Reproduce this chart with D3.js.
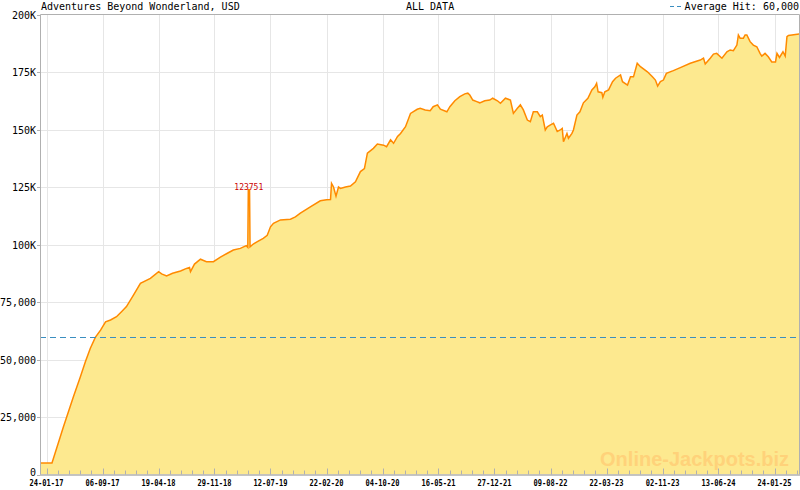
<!DOCTYPE html>
<html><head><meta charset="utf-8">
<script src="https://cdn.jsdelivr.net/npm/d3@7"></script>
<style>html,body{margin:0;padding:0;background:#fff;}svg{display:block;}</style>
</head><body>
<svg id="chart" width="800" height="490"></svg>
<script>
const title = "Adventures Beyond Wonderland, USD";
const subtitle = "ALL DATA";
const averageLabel = "Average Hit: 60,000";
const averageHit = 60000;
const peakLabel = "123751";
const peakValue = 123751;
const peakDate = "2019-04-16";

const xTickLabels = ["24-01-17","06-09-17","19-04-18","29-11-18","12-07-19","22-02-20","04-10-20","16-05-21","27-12-21","09-08-22","22-03-23","02-11-23","13-06-24","24-01-25"];
const yTickValues = [0,25000,50000,75000,100000,125000,150000,175000,200000];
const yTickLabels = ["0","25,000","50,000","75,000","100K","125K","150K","175K","200K"];

const dates = [
"2016-12-31","2017-02-15","2017-04-02","2017-05-12","2017-06-09","2017-06-29","2017-07-19","2017-08-08","2017-08-29","2017-09-18",
"2017-10-08","2017-11-01","2017-11-21","2017-12-11","2018-01-08","2018-02-05","2018-03-17","2018-04-19","2018-05-01","2018-05-21",
"2018-06-14","2018-07-16","2018-08-09","2018-08-21","2018-08-25","2018-09-10","2018-10-04","2018-10-28","2018-11-25","2018-12-23",
"2019-01-20","2019-02-13","2019-03-13","2019-04-06","2019-04-12","2019-04-14","2019-04-19","2019-04-21","2019-05-04","2019-05-24",
"2019-06-13","2019-06-29","2019-07-12","2019-07-24","2019-08-21","2019-09-30","2019-10-20","2019-11-09","2019-12-19","2020-01-28",
"2020-02-22","2020-03-09","2020-03-13","2020-03-21","2020-03-31","2020-04-10","2020-04-18","2020-05-08","2020-05-28","2020-06-17",
"2020-07-07","2020-07-23","2020-08-04","2020-08-28","2020-09-13","2020-10-08","2020-10-20","2020-11-05","2020-11-17","2020-12-03",
"2020-12-15","2021-01-04","2021-01-24","2021-02-20","2021-03-04","2021-03-24","2021-04-13","2021-04-25","2021-05-12","2021-05-24",
"2021-06-19","2021-07-01","2021-07-21","2021-08-10","2021-08-30","2021-09-11","2021-09-19","2021-10-01","2021-10-17","2021-10-29",
"2021-11-18","2021-12-08","2021-12-20","2022-01-08","2022-01-20","2022-02-09","2022-03-01","2022-03-13","2022-03-29","2022-04-10",
"2022-04-22","2022-05-08","2022-05-20","2022-06-01","2022-06-17","2022-06-29","2022-07-07","2022-07-19","2022-07-27","2022-08-09",
"2022-08-21","2022-09-05","2022-09-17","2022-09-25","2022-09-30","2022-10-14","2022-10-20","2022-11-03","2022-11-09","2022-11-23",
"2022-12-05","2022-12-19","2023-01-06","2023-01-22","2023-02-03","2023-02-10","2023-02-16","2023-03-03","2023-03-07","2023-03-15",
"2023-03-30","2023-04-15","2023-04-27","2023-05-17","2023-05-25","2023-06-14","2023-06-26","2023-07-08","2023-07-23","2023-08-05",
"2023-09-02","2023-09-22","2023-10-04","2023-10-13","2023-10-24","2023-11-05","2023-11-17","2023-12-15","2024-01-12","2024-02-21",
"2024-04-01","2024-04-14","2024-04-21","2024-05-11","2024-05-24","2024-06-06","2024-06-27","2024-07-17","2024-07-30","2024-08-12",
"2024-08-26","2024-09-01","2024-09-08","2024-09-21","2024-09-28","2024-10-05","2024-10-18","2024-10-31","2024-11-14","2024-11-27",
"2024-12-04","2024-12-17","2024-12-30","2025-01-13","2025-01-28","2025-02-03","2025-02-13","2025-02-27","2025-03-08","2025-03-15",
"2025-03-21","2025-05-05"
];
const values = [
5000,5000,20800,33800,42500,49000,54900,59600,62800,66400,
67200,68600,70800,73000,78000,83100,85300,88200,87200,86300,
87500,88500,89600,90000,88200,91500,93600,92500,92500,94500,
96200,97600,98300,99500,98800,123751,123751,99000,100200,101500,
102700,104000,107700,109200,110700,111000,112000,113600,116400,119000,
119500,119600,126600,125000,121000,125000,124400,125000,125400,127300,
131700,133000,139700,141800,143700,143200,142500,145500,144000,147000,
148300,151200,157000,158800,159200,158500,158200,159900,160700,158800,
157700,159900,162500,164300,165500,165800,165000,162800,162100,161600,
162500,162800,163600,162500,161400,163600,162800,157000,159200,160700,
158500,154100,153400,157700,157700,155600,156300,149800,151200,152000,
152700,149100,149800,150500,144700,148300,146200,148300,149800,156300,
157700,161600,163600,167200,168600,170100,166400,166000,164000,166400,
167200,170800,172300,173700,170800,169300,172900,172900,178800,177300,
175100,172900,171500,168900,170800,171500,174400,175600,176900,178800,
180200,181000,178500,181000,182800,183100,181000,183800,184600,184300,
186700,191100,189700,189700,191100,191100,188200,186700,186000,183100,
181900,183100,181600,179400,179400,183100,181300,183800,181900,190400,
190900,191600
];

const parse = d3.utcParse("%Y-%m-%d");
const parseTick = d3.utcParse("%d-%m-%y");
const data = dates.map((d, i) => ({date: parse(d), value: values[i]}));
const tickDates = xTickLabels.map(parseTick);

const L = 40, R = 799, T = 14.5, B = 474.5;
const svg = d3.select("#chart");
const x = d3.scaleUtc().domain([tickDates[0], tickDates[tickDates.length - 1]]).range([46.5, 774.5]);
const y = d3.scaleLinear().domain([0, 200000]).range([B, T]);

svg.append("defs").append("clipPath").attr("id", "clip")
  .append("rect").attr("x", L).attr("y", T).attr("width", R - L).attr("height", B - T);

// grid
const grid = svg.append("g");
grid.selectAll("line.h").data(yTickValues.slice(1, -1)).join("line")
  .attr("x1", L).attr("x2", R).attr("y1", d => Math.round(y(d)) + 0.5).attr("y2", d => Math.round(y(d)) + 0.5)
  .attr("stroke", "#e6e6e6").attr("stroke-width", 1);
grid.selectAll("line.v").data(tickDates).join("line")
  .attr("x1", d => Math.round(x(d)) + 0.5).attr("x2", d => Math.round(x(d)) + 0.5).attr("y1", T).attr("y2", B)
  .attr("stroke", "#e6e6e6").attr("stroke-width", 1);

// area + line
const plot = svg.append("g").attr("clip-path", "url(#clip)");
plot.append("path").datum(data)
  .attr("d", d3.area().x(d => x(d.date)).y0(B).y1(d => y(d.value)))
  .attr("fill", "#fde98f");
plot.append("path").datum(data)
  .attr("d", d3.line().x(d => x(d.date)).y(d => y(d.value)))
  .attr("fill", "none").attr("stroke", "#ff8a00").attr("stroke-width", 1.5).attr("stroke-linejoin", "miter");

// watermark
svg.append("text").attr("x", 789).attr("y", 466).attr("text-anchor", "end")
  .attr("font-family", "Liberation Sans, Arial, sans-serif").attr("font-weight", "bold").attr("font-size", 20)
  .attr("fill", "#ffd27a").text("Online-Jackpots.biz");

// average line
svg.append("line").attr("x1", L).attr("x2", R).attr("y1", Math.round(y(averageHit)) + 0.5).attr("y2", Math.round(y(averageHit)) + 0.5)
  .attr("stroke", "#3b8ec0").attr("stroke-width", 1).attr("stroke-dasharray", "6,4");

// frame
svg.append("path").attr("d", `M${L + 0.5},${B}V${T}H${R + 0.5}V${B}`).attr("fill", "none").attr("stroke", "#b0b0b0").attr("stroke-width", 1);
svg.append("line").attr("x1", L).attr("x2", R + 1).attr("y1", B + 0.5).attr("y2", B + 0.5).attr("stroke", "#b0b0b0").attr("stroke-width", 1.5);

// x ticks (major + 4 minor per interval)
const minor = [];
for (let i = 0; i < tickDates.length; i++) {
  const a = tickDates[i];
  const b = i < tickDates.length - 1 ? tickDates[i + 1] : new Date(+a + (+a - +tickDates[i - 1]));
  for (let k = 1; k < 5; k++) minor.push(new Date(+a + (b - a) * k / 5));
}
const xt = svg.append("g");
xt.selectAll("line.mi").data(minor.filter(d => x(d) < R)).join("line")
  .attr("x1", d => Math.round(x(d)) + 0.5).attr("x2", d => Math.round(x(d)) + 0.5).attr("y1", B - 4).attr("y2", B)
  .attr("stroke", "#b0b0b0");
xt.selectAll("line.ma").data(tickDates).join("line")
  .attr("x1", d => Math.round(x(d)) + 0.5).attr("x2", d => Math.round(x(d)) + 0.5).attr("y1", B - 6).attr("y2", B)
  .attr("stroke", "#b0b0b0");
xt.selectAll("text").data(xTickLabels).join("text")
  .attr("x", (d, i) => x(tickDates[i])).attr("y", 486).attr("text-anchor", "middle")
  .attr("font-family", "DejaVu Sans Mono, monospace").attr("font-weight", "bold").attr("font-size", 9)
  .attr("textLength", 34).attr("lengthAdjust", "spacingAndGlyphs")
  .attr("fill", "#000").text(d => d);

// y ticks
const yt = svg.append("g");
yt.selectAll("line").data(yTickValues).join("line")
  .attr("x1", L - 3).attr("x2", L).attr("y1", d => Math.round(y(d)) + 0.5).attr("y2", d => Math.round(y(d)) + 0.5)
  .attr("stroke", "#b0b0b0");
yt.selectAll("text").data(yTickValues).join("text")
  .attr("x", 36).attr("y", d => d === 0 ? y(d) + 1 : y(d) + 4).attr("text-anchor", "end")
  .attr("font-family", "DejaVu Sans Mono, monospace").attr("font-size", 10).attr("fill", "#000")
  .text((d, i) => yTickLabels[i]);

// titles
const tf = "DejaVu Sans Mono, monospace";
svg.append("text").attr("x", 41).attr("y", 10).attr("font-family", tf).attr("font-size", 10).text(title);
svg.append("text").attr("x", 406).attr("y", 10).attr("font-family", tf).attr("font-size", 10).text(subtitle);
svg.append("text").attr("x", 799).attr("y", 10).attr("text-anchor", "end").attr("font-family", tf).attr("font-size", 10).text(averageLabel);
svg.append("line").attr("x1", 670).attr("x2", 684).attr("y1", 6.5).attr("y2", 6.5)
  .attr("stroke", "#3b8ec0").attr("stroke-dasharray", "4,3");

// peak label
svg.append("text").attr("x", x(parse(peakDate))).attr("y", y(peakValue)).attr("text-anchor", "middle")
  .attr("font-family", tf).attr("font-size", 8).attr("fill", "#cc0000").text(peakLabel);
</script>
</body></html>
